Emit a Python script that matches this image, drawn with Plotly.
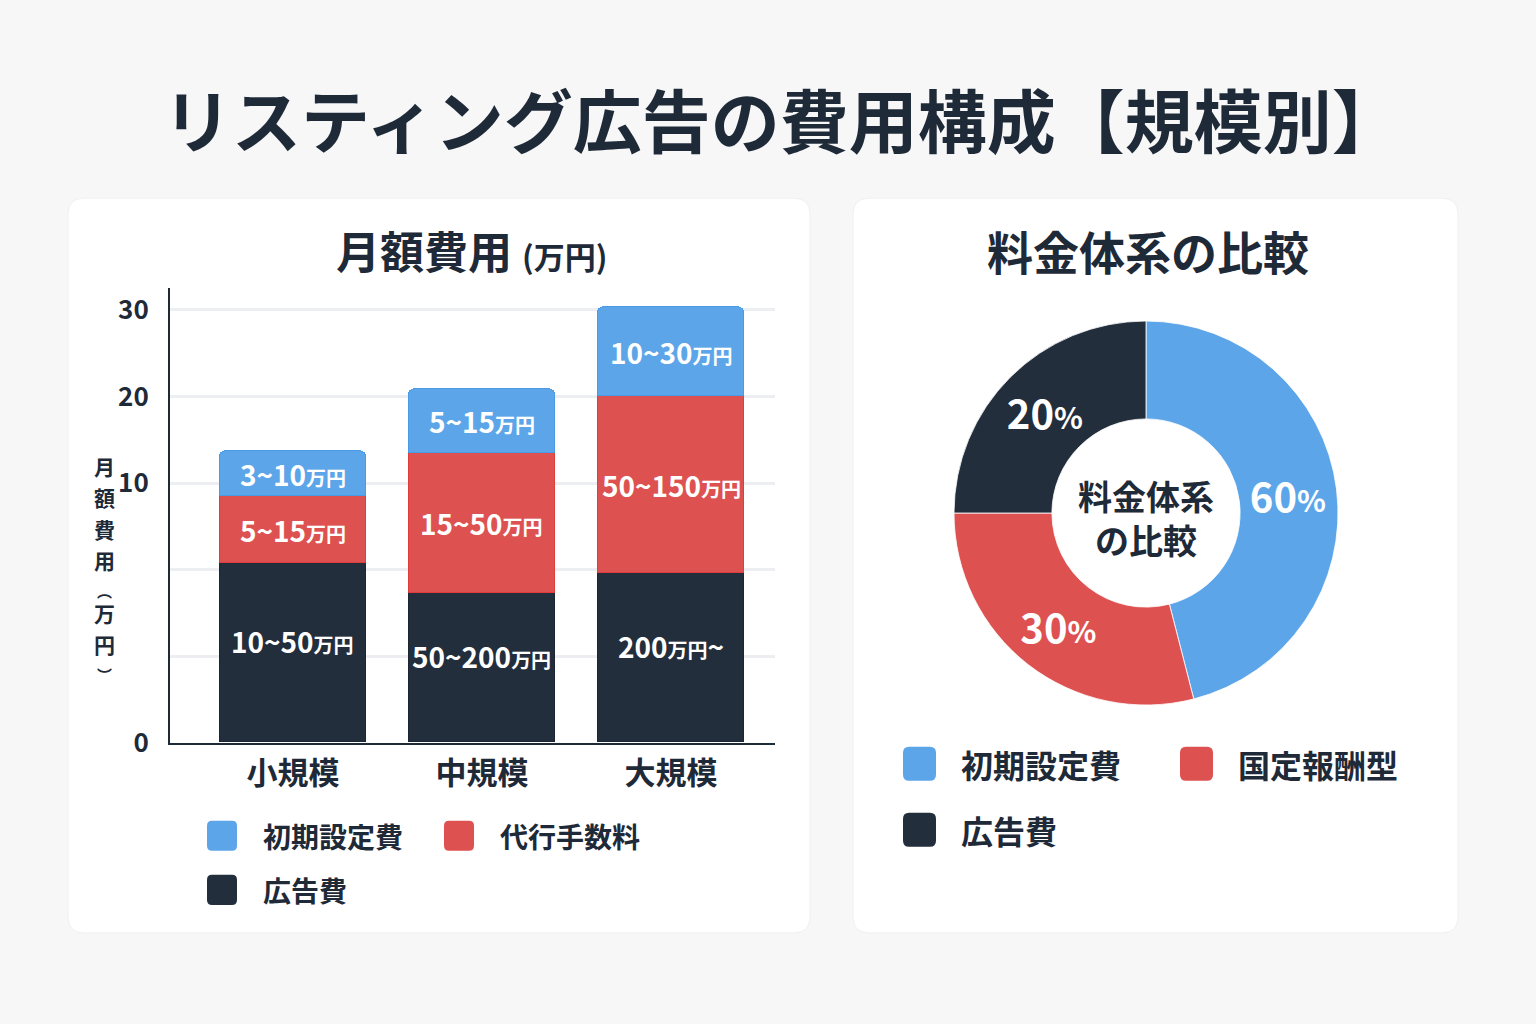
import plotly.graph_objects as go

# ---------------- data ----------------
categories = ["小規模", "中規模", "大規模"]
series_names = ["広告費", "代行手数料", "初期設定費"]
# bar segment heights in axis units
ad_cost = [12.45, 10.37, 11.76]
agency_fee = [4.63, 9.70, 12.27]
setup_fee = [3.13, 4.44, 6.13]
ad_cost_labels = ["10~50", "50~200", "200万円~"]
agency_fee_labels = ["5~15", "15~50", "50~150"]
setup_fee_labels = ["3~10", "5~15", "10~30"]
y_tick_vals = [0, 6, 12, 18, 24, 30]
y_tick_text = ["0", "", "", "10", "20", "30"]
y_title_chars = ["月", "額", "費", "用", "︵", "万", "円", "︶"]

pie_labels = ["初期設定費", "国定報酬型", "広告費"]
pie_values = [46, 29, 25]          # slice sizes as drawn
pie_text = ["60", "30", "20"]      # percentages as printed

# ---------------- styles ----------------
W, H = 1536, 1024
HE = 1007  # effective rendered height of the paper
FONT = "Noto Sans CJK JP"
DARK = "#1f2a38"
BLUE = "#5da5e9"
RED = "#de5151"
NAVY = "#232e3d"
BG = "#f7f7f7"


def px(x):
    return x / W


def py(y):
    return 1 - y / HE


def rrect(x0, y0, x1, y1, r):
    X0, X1 = px(x0), px(x1)
    Y0, Y1 = py(y0), py(y1)
    rx, ry = r / W, r / HE
    return (f"M {X0+rx},{Y0} L {X1-rx},{Y0} Q {X1},{Y0} {X1},{Y0-ry} "
            f"L {X1},{Y1+ry} Q {X1},{Y1} {X1-rx},{Y1} L {X0+rx},{Y1} "
            f"Q {X0},{Y1} {X0},{Y1+ry} L {X0},{Y0-ry} Q {X0},{Y0} {X0+rx},{Y0} Z")


def fmt(s):
    if "万円" in s:
        a, b = s.split("万円")
        return f"{a}<span style='font-size:20px'>万円</span>{b}"
    return f"{s}<span style='font-size:20px'>万円</span>"


fig = go.Figure()
annotations = []

bar_series = [
    (series_names[0], ad_cost, ad_cost_labels, NAVY, "#1b2533", 12),
    (series_names[1], agency_fee, agency_fee_labels, RED, "#e23b3b", 0),
    (series_names[2], setup_fee, setup_fee_labels, BLUE, "#4a9ae8", 0),
]
base = [0.0] * len(categories)
for name, vals, labs, col, lcol, shift in bar_series:
    fig.add_trace(go.Bar(
        x=categories, y=vals, name=name,
        marker=dict(color=col, line=dict(color=lcol, width=1)),
        width=0.77, showlegend=False, hoverinfo="skip",
        xaxis="x", yaxis="y",
    ))
    for i, (c, v, lab) in enumerate(zip(categories, vals, labs)):
        annotations.append(dict(
            text=fmt(lab), x=c, y=base[i] + v / 2, xref="x", yref="y", showarrow=False,
            yshift=shift,
            font=dict(family=FONT, size=28, color="white", weight=700),
            xanchor="center", yanchor="middle"))
        base[i] += v

fig.add_trace(go.Pie(
    labels=pie_labels, values=pie_values, sort=False, direction="clockwise",
    rotation=0, hole=0.49,
    marker=dict(colors=[BLUE, RED, NAVY], line=dict(color="#ffffff", width=0.8)),
    text=[f"{t}<span style='font-size:30px'>%</span>" for t in pie_text],
    texttemplate="%{text}", textposition="inside", insidetextorientation="horizontal",
    textfont=dict(family=FONT, size=40, color="white", weight=700),
    domain=dict(x=[px(954), px(1338)], y=[py(705), py(320)]),
    showlegend=False, hoverinfo="skip",
))

shapes = [
    dict(type="path", path=rrect(68, 198, 810, 932, 16), xref="paper", yref="paper",
         fillcolor="white", line=dict(color="#f0f0f0", width=1), layer="below"),
    dict(type="path", path=rrect(853, 198, 1458, 932, 16), xref="paper", yref="paper",
         fillcolor="white", line=dict(color="#f0f0f0", width=1), layer="below"),
]

annotations += [
    dict(text="リスティング広告の費用構成【規模別】", x=px(782), y=py(118), xref="paper", yref="paper",
         showarrow=False, font=dict(family=FONT, size=69, color=DARK, weight=700),
         xanchor="center", yanchor="middle"),
    dict(text="月額費用 <span style='font-size:31px'>(万円)</span>", x=px(471), y=py(250),
         xref="paper", yref="paper", showarrow=False,
         font=dict(family=FONT, size=44, color=DARK, weight=700), xanchor="center", yanchor="middle"),
    dict(text="料金体系の比較", x=px(1148), y=py(250), xref="paper", yref="paper", showarrow=False,
         font=dict(family=FONT, size=46, color=DARK, weight=700), xanchor="center", yanchor="middle"),
    dict(text="料金体系<br>の比較", x=px(1146), y=py(517), xref="paper", yref="paper", showarrow=False,
         font=dict(family=FONT, size=34, color=DARK, weight=700), xanchor="center", yanchor="middle"),
]

# vertical y-axis title, one upright character per line
y_pos = 466
for ch in y_title_chars:
    is_paren = ch in ("︵", "︶")
    size = 15 if is_paren else 21
    step = 22 if is_paren else 31
    annotations.append(dict(text=ch, x=px(104), y=py(y_pos), xref="paper", yref="paper", showarrow=False,
                            font=dict(family=FONT, size=size, color=DARK, weight=700),
                            xanchor="center", yanchor="middle"))
    y_pos += step if not is_paren else step
    if is_paren and ch == "︵":
        pass

# custom legends
left_legend = [(series_names[2], BLUE, 207, 835), (series_names[1], RED, 444, 835), (series_names[0], NAVY, 207, 889)]
for name, col, x, y in left_legend:
    shapes.append(dict(type="path", path=rrect(x, y - 15, x + 30, y + 15, 5), xref="paper", yref="paper",
                       fillcolor=col, line=dict(width=0)))
    annotations.append(dict(text=name, x=px(x + 54), y=py(y), xref="paper", yref="paper", showarrow=False,
                            font=dict(family=FONT, size=28, color=DARK, weight=700),
                            xanchor="left", yanchor="middle"))

right_legend = [(pie_labels[0], BLUE, 903, 763), (pie_labels[1], RED, 1180, 763), (pie_labels[2], NAVY, 903, 829)]
for name, col, x, y in right_legend:
    shapes.append(dict(type="path", path=rrect(x, y - 17, x + 33, y + 17, 6), xref="paper", yref="paper",
                       fillcolor=col, line=dict(width=0)))
    annotations.append(dict(text=name, x=px(x + 56), y=py(y), xref="paper", yref="paper", showarrow=False,
                            font=dict(family=FONT, size=32, color=DARK, weight=700),
                            xanchor="left", yanchor="middle"))

fig.update_layout(
    width=W, height=H, autosize=False, margin=dict(l=0, r=0, t=0, b=0, pad=0),
    paper_bgcolor=BG, plot_bgcolor="rgba(0,0,0,0)",
    barmode="stack", barcornerradius=6, bargap=0,
    font=dict(family=FONT, color=DARK),
    xaxis=dict(domain=[px(170), px(775)], range=[-0.65, 2.55], showgrid=False,
               showline=True, linecolor=DARK, linewidth=2, ticks="",
               tickfont=dict(family=FONT, size=31, color=DARK, weight=700), ticklabelstandoff=2),
    yaxis=dict(domain=[py(742), py(288)], range=[0, 31.5], tickvals=y_tick_vals, ticktext=y_tick_text,
               showgrid=True, gridcolor="#eceef1", gridwidth=3, showline=True, linecolor=DARK, linewidth=2,
               zeroline=False, ticks="", ticklabelstandoff=14,
               tickfont=dict(family=FONT, size=26, color=DARK, weight=700)),
    shapes=shapes, annotations=annotations,
)

fig.write_html("out.html", config={"responsive": False})
